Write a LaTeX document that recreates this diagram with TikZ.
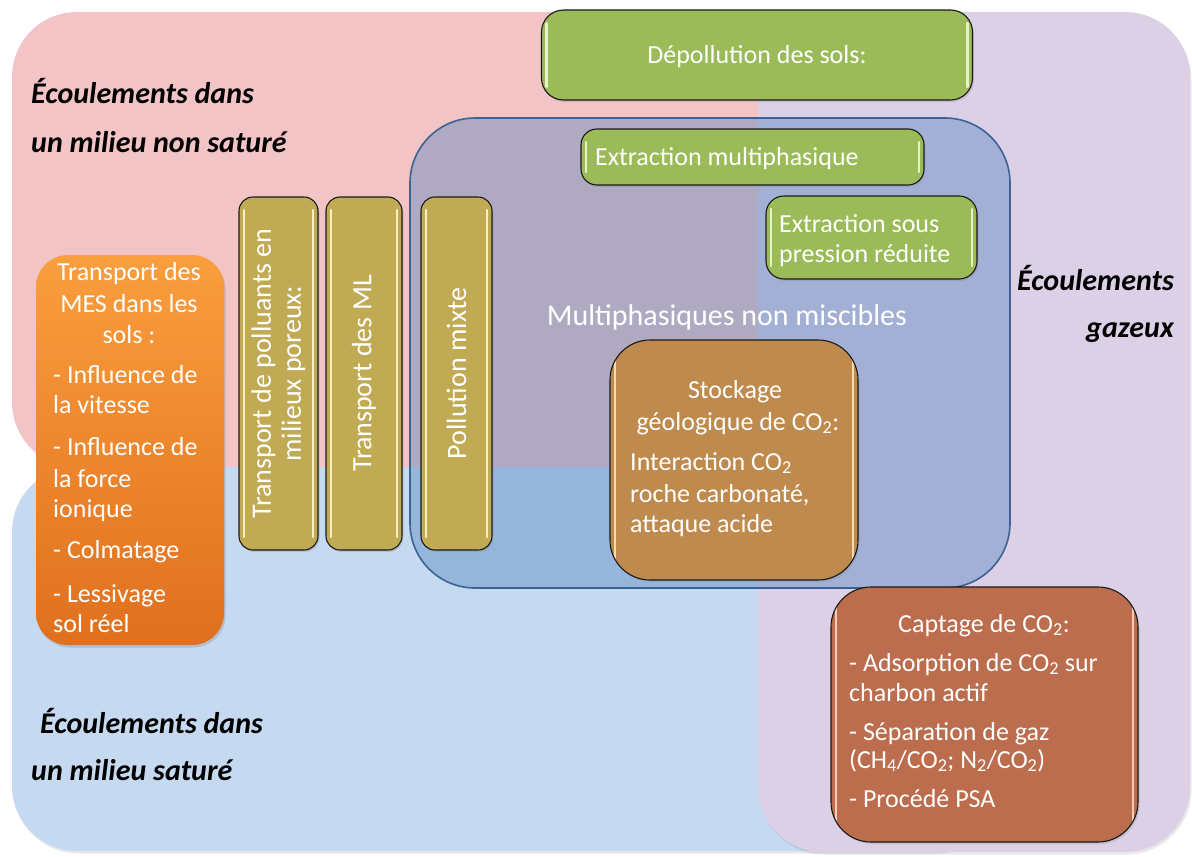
\documentclass[tikz,border=0pt]{standalone}
\usepackage{fontspec}
\setmainfont{Carlito}
\usetikzlibrary{shadows}
\definecolor{pinkR}{RGB}{242,196,198}
\definecolor{blueR}{RGB}{197,217,240}
\definecolor{lavR}{RGB}{220,208,230}
\definecolor{multiF}{RGB}{79,129,189}
\definecolor{multiB}{RGB}{60,99,150}
\definecolor{greenB}{RGB}{155,187,89}
\definecolor{greenH}{RGB}{230,242,204}
\definecolor{oliveB}{RGB}{192,170,84}
\definecolor{oliveH}{RGB}{248,240,196}
\definecolor{stockB}{RGB}{191,138,78}
\definecolor{stockH}{RGB}{248,218,180}
\definecolor{captB}{RGB}{188,109,77}
\definecolor{captH}{RGB}{250,204,182}
\definecolor{orgT}{RGB}{250,158,62}
\definecolor{orgB}{RGB}{224,112,30}
\definecolor{edgeC}{RGB}{25,25,25}
\begin{document}
\begin{tikzpicture}[x=1pt,y=-1pt,
  region/.style={rectangle, rounded corners=65pt, inner sep=0pt, draw=none,
    drop shadow={opacity=0.18, shadow xshift=1.5pt, shadow yshift=-2.5pt}},
  box/.style={rectangle, inner sep=0pt, draw=edgeC, line width=1.1pt,
    drop shadow={opacity=0.25, shadow xshift=1.5pt, shadow yshift=-2pt}},
  gloss/.style={path picture={
    \draw[#1, line width=2.2pt, line cap=round]
      ([xshift=5pt,yshift=-13pt]path picture bounding box.north west) --
      ([xshift=5pt,yshift=13pt]path picture bounding box.south west);
    \draw[#1, line width=2.2pt, line cap=round]
      ([xshift=-5pt,yshift=-13pt]path picture bounding box.north east) --
      ([xshift=-5pt,yshift=13pt]path picture bounding box.south east);}},
  wt/.style={font=\fontsize{26}{31}\selectfont, text=white, inner sep=0pt},
  rt/.style={font=\fontsize{28}{30}\selectfont, text=white, inner sep=0pt, rotate=90, align=center},
  lab/.style={font=\fontsize{30}{36}\selectfont\bfseries\itshape, text=black, inner sep=0pt}
]
\useasboundingbox[fill=white] (0,0) rectangle (1192,857);

% regions
\node[region, fill=pinkR, minimum width=988pt, minimum height=455pt] (unsat) at (506,239.5) {};
\node[region, fill=blueR, minimum width=988pt, minimum height=384pt] (sat) at (506,659) {};
\node[region, fill=lavR, minimum width=432pt, minimum height=840pt] (gas) at (974,432) {};
\node[rectangle, rounded corners=65pt, inner sep=0pt, fill=multiF, fill opacity=0.4,
  draw=multiB, draw opacity=1, line width=1.6pt, minimum width=600pt, minimum height=470pt] (multi) at (710,353) {};

% region labels
\node[lab, anchor=base west] (l1a) at (31,103) {Écoulements dans};
\node[lab, anchor=base west] (l1b) at (31,152) {un milieu non saturé};
\node[lab, anchor=base east] (l2a) at (1174,290) {Écoulements};
\node[lab, anchor=base east] (l2b) at (1174,337) {gazeux};
\node[lab, anchor=base west] (l3a) at (40,733) {Écoulements dans};
\node[lab, anchor=base west] (l3b) at (31,780) {un milieu saturé};
\node[wt, font=\fontsize{30}{35}\selectfont, anchor=base] (mtxt) at (727,325) {Multiphasiques non miscibles};

% green boxes
\node[box, rounded corners=22pt, fill=greenB, gloss=greenH, minimum width=431pt, minimum height=90pt] (depol) at (757,55) {};
\node[wt, anchor=base] (depoltxt) at (757,63) {Dépollution des sols:};
\node[box, rounded corners=16pt, fill=greenB, gloss=greenH, minimum width=343pt, minimum height=56pt] (extm) at (752.5,157) {};
\node[wt, anchor=base west] (extmtxt) at (595,165) {Extraction multiphasique};
\node[box, rounded corners=18pt, fill=greenB, gloss=greenH, minimum width=211pt, minimum height=83pt] (extp) at (871.5,237.5) {};
\node[wt, anchor=base west] (extpa) at (779,232) {Extraction sous};
\node[wt, anchor=base west] (extpb) at (779,262) {pression réduite};

% olive boxes
\node[box, rounded corners=14pt, fill=oliveB, gloss=oliveH, minimum width=79pt, minimum height=353pt] (ob1) at (278.5,373.5) {};
\node[rt] (ob1t) at (ob1.center) {Transport de polluants en\\milieux poreux:};
\node[box, rounded corners=14pt, fill=oliveB, gloss=oliveH, minimum width=76pt, minimum height=353pt] (ob2) at (364,373.5) {};
\node[rt] (ob2t) at (ob2.center) {Transport des ML};
\node[box, rounded corners=14pt, fill=oliveB, gloss=oliveH, minimum width=71pt, minimum height=353pt] (ob3) at (456.5,373.5) {};
\node[rt] (ob3t) at (ob3.center) {Pollution mixte};

% orange box
\node[rectangle, inner sep=0pt, rounded corners=32pt, top color=orgT, bottom color=orgB,
  drop shadow={opacity=0.3, shadow xshift=1.5pt, shadow yshift=-2.5pt},
  minimum width=188pt, minimum height=390pt] (mes) at (130,450) {};
\node[wt, anchor=base] (mes1) at (129,280) {Transport des};
\node[wt, anchor=base] (mes2) at (129,312) {MES dans les};
\node[wt, anchor=base] (mes3) at (129,343) {sols :};
\node[wt, anchor=base west] (mes4) at (53,383) {- Influence de};
\node[wt, anchor=base west] (mes5) at (53,413) {la vitesse};
\node[wt, anchor=base west] (mes6) at (53,455) {- Influence de};
\node[wt, anchor=base west] (mes7) at (53,487) {la force};
\node[wt, anchor=base west] (mes8) at (53,517) {ionique};
\node[wt, anchor=base west] (mes9) at (53,558) {- Colmatage};
\node[wt, anchor=base west] (mes10) at (53,602) {- Lessivage};
\node[wt, anchor=base west] (mes11) at (53,632) {sol réel};

% stockage
\node[box, rounded corners=40pt, fill=stockB, gloss=stockH, minimum width=248pt, minimum height=240pt] (stock) at (734,460) {};
\node[wt, anchor=base] (st1) at (735,398) {Stockage};
\node[wt, anchor=base] (st2) at (738,430) {géologique de CO\textsubscript{2}:};
\node[wt, anchor=base west] (st3) at (630,470) {Interaction CO\textsubscript{2}};
\node[wt, anchor=base west] (st4) at (630,502) {roche carbonaté,};
\node[wt, anchor=base west] (st5) at (630,532) {attaque acide};

% captage
\node[box, rounded corners=40pt, fill=captB, gloss=captH, minimum width=307pt, minimum height=255pt] (capt) at (984.5,714.5) {};
\node[wt, anchor=base] (ca1) at (984,632) {Captage de CO\textsubscript{2}:};
\node[wt, anchor=base west] (ca2) at (849,671) {- Adsorption de CO\textsubscript{2} sur};
\node[wt, anchor=base west] (ca3) at (849,701) {charbon actif};
\node[wt, anchor=base west] (ca4) at (849,740) {- Séparation de gaz};
\node[wt, anchor=base west] (ca5) at (849,768) {(CH\textsubscript{4}/CO\textsubscript{2}; N\textsubscript{2}/CO\textsubscript{2})};
\node[wt, anchor=base west] (ca6) at (849,807) {- Procédé PSA};
\end{tikzpicture}
\end{document}
